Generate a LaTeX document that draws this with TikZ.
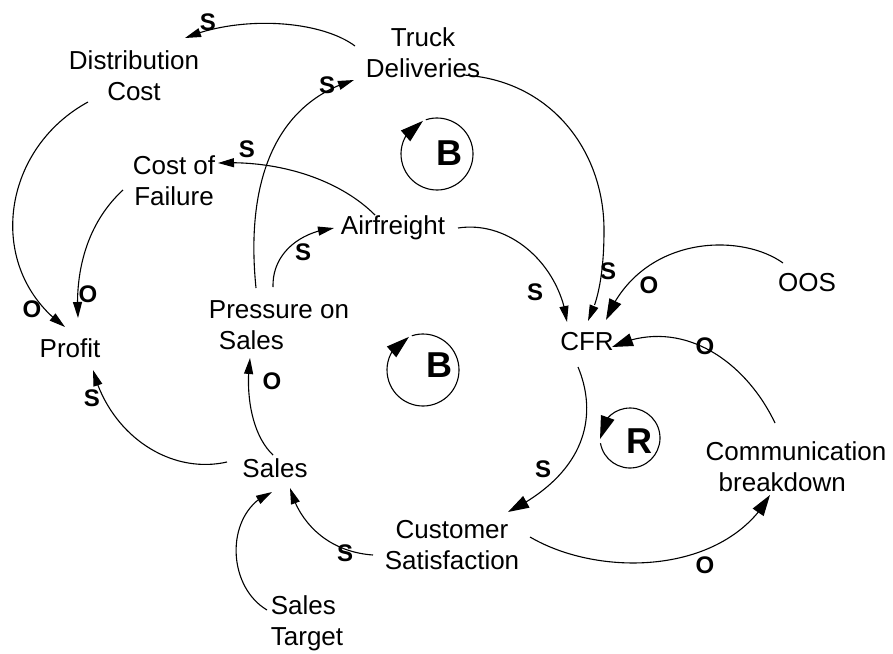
\documentclass[tikz,border=0pt]{standalone}
\usepackage{fontspec}
\setmainfont{Liberation Sans}
\usetikzlibrary{arrows.meta,bending}
\begin{document}
\begin{tikzpicture}[x=1pt,y=-1pt,
  lbl/.style={font=\fontsize{26}{31}\selectfont, align=center, inner sep=0pt},
  pol/.style={font=\fontsize{24}{24}\selectfont\bfseries, inner sep=0pt},
  loopl/.style={font=\fontsize{36}{36}\selectfont\bfseries, inner sep=0pt},
  lnk/.style={line width=1.1pt, -{Triangle[length=16pt,width=9pt]}},
  blnk/.style={line width=1.1pt, -{Triangle[length=21pt,width=13pt]}},
  ring/.style={line width=1.1pt, -{Triangle[length=23pt,width=14pt,flex]}}]
\useasboundingbox (0,0) rectangle (893,653);

% variables
\node[lbl] (dist)    at (134,76)  {Distribution\\Cost};
\node[lbl] (truck)   at (423,53)  {Truck\\Deliveries};
\node[lbl] (cof)     at (174,181) {Cost of\\Failure};
\node[lbl] (air)     at (393,228) {Airfreight};
\node[lbl,align=left] (press) at (279,325) {Pressure on\\\hspace*{10pt}Sales};
\node[lbl] (profit)  at (70,348)  {Profit};
\node[lbl] (cfr)     at (587,342) {CFR};
\node[lbl] (oos)     at (807,283) {OOS};
\node[lbl,align=left] (comm) at (796,467) {Communication\\\hspace*{13pt}breakdown};
\node[lbl] (sales)   at (275,468) {Sales};
\node[lbl] (custsat) at (452,545) {Customer\\Satisfaction};
\node[lbl,align=left] (target) at (307,623) {Sales\\Target};

% links
\draw[lnk] ([shift={(-68,-7)}]truck.center) .. controls (320,20) and (240,15) .. ([shift={(51,-38)}]dist.center);
\draw[lnk] ([shift={(40,22)}]truck.center) .. controls (550,80) and (604,150) .. (604,230) .. controls (604,280) and (596,305) .. ([shift={(1,-21)}]cfr.center);
\draw[lnk] ([shift={(-23,-37)}]press.center) .. controls (246,190) and (270,105) .. ([shift={(-69,27)}]truck.center);
\draw[lnk] ([shift={(-18,-13)}]air.center) .. controls (340,180) and (280,160) .. ([shift={(44,-18)}]cof.center);
\draw[lnk] ([shift={(-6,-38)}]press.center) .. controls (272,255) and (298,232) .. ([shift={(-59,0)}]air.center);
\draw[lnk] ([shift={(65,0)}]air.center) .. controls (510,220) and (560,265) .. ([shift={(-20,-20)}]cfr.center);
\draw[blnk] ([shift={(-24,-20)}]oos.center) .. controls (740,232) and (640,235) .. ([shift={(19,-22)}]cfr.center);
\draw[blnk] ([shift={(-21,-44)}]comm.center) .. controls (745,360) and (680,315) .. ([shift={(25,5)}]cfr.center);
\draw[blnk] ([shift={(-9,25)}]cfr.center) .. controls (596,410) and (592,470) .. ([shift={(56,-33)}]custsat.center);
\draw[blnk] ([shift={(78,-8)}]custsat.center) .. controls (600,578) and (725,575) .. ([shift={(-26,28)}]comm.center);
\draw[lnk] ([shift={(-79,10)}]custsat.center) .. controls (330,552) and (300,525) .. ([shift={(15,20)}]sales.center);
\draw[lnk] ([shift={(-40,-13)}]target.center) .. controls (225,585) and (225,510) .. ([shift={(-3,24)}]sales.center);
\draw[lnk] ([shift={(-2,-13)}]sales.center) .. controls (252,435) and (245,395) .. ([shift={(-29,33)}]press.center);
\draw[lnk] ([shift={(-48,-6)}]sales.center) .. controls (170,475) and (110,435) .. ([shift={(23,22)}]profit.center);
\draw[lnk] ([shift={(-46,26)}]dist.center) .. controls (0,150) and (-15,270) .. ([shift={(-5,-21)}]profit.center);
\draw[lnk] ([shift={(-51,9)}]cof.center) .. controls (85,225) and (75,275) .. ([shift={(8,-30)}]profit.center);

% polarity labels
\node[pol] (p1)  at (208,22)  {S};
\node[pol] (p2)  at (608,271) {S};
\node[pol] (p3)  at (327,85)  {S};
\node[pol] (p4)  at (247,149) {S};
\node[pol] (p5)  at (303,252) {S};
\node[pol] (p6)  at (535,292) {S};
\node[pol] (p7)  at (649,285) {O};
\node[pol] (p8)  at (705,346) {O};
\node[pol] (p9)  at (543,469) {S};
\node[pol] (p10) at (705,565) {O};
\node[pol] (p11) at (345,553) {S};
\node[pol] (p13) at (272,381) {O};
\node[pol] (p14) at (92,398)  {S};
\node[pol] (p15) at (32,309)  {O};
\node[pol] (p16) at (88,294)  {O};

% loop markers
\coordinate (c1) at (437,154);
\coordinate (c2) at (423,370);
\coordinate (c3) at (630,438);
\draw[ring] (c1) ++(108:36pt) arc[start angle=108, end angle=-247, radius=36pt];
\draw[ring] (c2) ++(108:36pt) arc[start angle=108, end angle=-247, radius=36pt];
\draw[ring] (c3) ++(-170:30pt) arc[start angle=-170, end angle=182, radius=30pt];
\node[loopl] (l1) at (449,153) {B};
\node[loopl] (l2) at (439,365) {B};
\node[loopl] (l3) at (639,441) {R};
\end{tikzpicture}
\end{document}
